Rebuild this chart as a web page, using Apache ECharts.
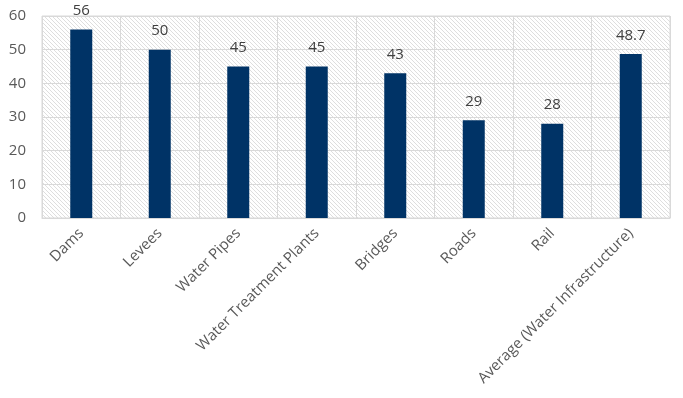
<!DOCTYPE html>
<html>
<head>
<meta charset="utf-8">
<script src="https://cdn.jsdelivr.net/npm/echarts@6/dist/echarts.min.js"></script>
<style>html,body{margin:0;padding:0;background:#fff}#c{width:683px;height:398px}</style>
</head>
<body>
<div id="c"></div>
<script>
var categories = ["Dams","Levees","Water Pipes","Water Treatment Plants","Bridges","Roads","Rail","Average (Water Infrastructure)"];
var values = [56,50,45,45,43,29,28,48.7];
var yTicks = [0,10,20,30,40,50,60];

var pc = document.createElement('canvas');
pc.width = 4; pc.height = 4;
var ctx = pc.getContext('2d');
ctx.fillStyle = '#ffffff'; ctx.fillRect(0,0,4,4);
ctx.strokeStyle = '#dedede'; ctx.lineWidth = 1;
ctx.beginPath();
ctx.moveTo(-1,-1); ctx.lineTo(5,5);
ctx.moveTo(-1,3); ctx.lineTo(1,5);
ctx.moveTo(3,-1); ctx.lineTo(5,1);
ctx.stroke();

var chart = echarts.init(document.getElementById('c'), null, {renderer:'canvas'});
var font = 'Open Sans';
chart.setOption({
  animation:false,
  grid:{left:42,right:13,top:16,bottom:180,show:true,borderColor:'#d9d9d9',borderWidth:1,
        backgroundColor:{image:pc,repeat:'repeat'}},
  xAxis:{type:'category',data:categories,
    axisLine:{show:true,lineStyle:{color:'#d9d9d9'}},
    axisTick:{show:false},
    splitLine:{show:true,lineStyle:{color:'#d9d9d9'}},
    axisLabel:{rotate:45,interval:0,color:'#595959',fontFamily:font,fontSize:15,margin:13}
  },
  yAxis:{type:'value',min:yTicks[0],max:yTicks[yTicks.length-1],interval:10,
    axisLine:{show:false},axisTick:{show:false},
    splitLine:{lineStyle:{color:'#d9d9d9'}},
    axisLabel:{color:'#595959',fontFamily:font,fontSize:15,margin:16}
  },
  series:[{type:'bar',data:values,barWidth:22,
    itemStyle:{color:'#003366'},
    label:{show:true,position:'top',distance:11,color:'#404040',fontFamily:font,fontSize:15}
  }]
});
</script>
</body>
</html>
